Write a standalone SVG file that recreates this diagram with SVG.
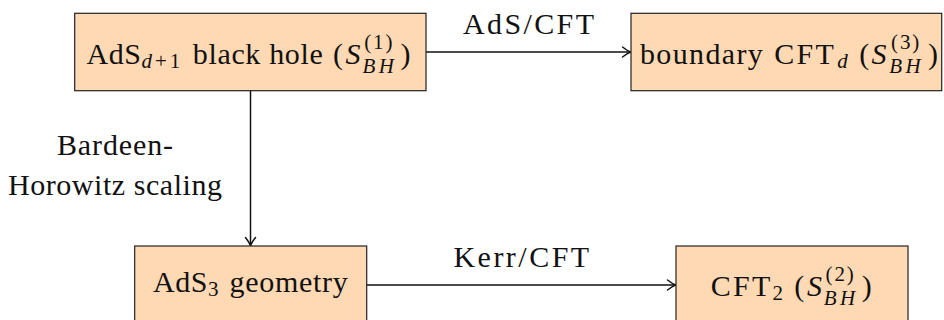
<svg xmlns="http://www.w3.org/2000/svg" width="944" height="320" viewBox="0 0 944 320">
<defs>
<style>
.box{fill:#FFD9B3;stroke:#222;stroke-width:1.2}
.t{font-family:"Liberation Serif","Times New Roman",serif;font-size:30px;fill:#111}
.s{font-size:21px}
.i{font-style:italic}
.edge{fill:none;stroke:#111;stroke-width:1.5}
</style>
<marker id="arr" markerUnits="userSpaceOnUse" markerWidth="14" markerHeight="14" viewBox="-10 -7 12 14" refX="0" refY="0" orient="auto">
<path d="M-8,-5 Q-3,-1.2 0,0 Q-3,1.2 -8,5" fill="none" stroke="#111" stroke-width="1.5" stroke-linecap="round"/>
</marker>
</defs>
<rect width="944" height="320" fill="#fff"/>

<g id="connectors">
<path class="edge" d="M426,52 H630.5" marker-end="url(#arr)"/>
<path class="edge" d="M250.5,90.7 V245.5" marker-end="url(#arr)"/>
<path class="edge" d="M366.7,285 H675.5" marker-end="url(#arr)"/>
<text class="t" x="463" y="33.5" textLength="131" lengthAdjust="spacing">AdS/CFT</text>
<text class="t" x="453.4" y="266.5" textLength="135.8" lengthAdjust="spacing">Kerr/CFT</text>
<text class="t" x="57" y="155" textLength="116" lengthAdjust="spacing">Bardeen-</text>
<text class="t" x="8" y="194.5" textLength="214" lengthAdjust="spacing">Horowitz scaling</text>
</g>

<g id="node-ads-bh">
<rect class="box" x="74.7" y="13.3" width="351.3" height="77.4"/>
<text class="t" y="63.5"><tspan x="86.5" letter-spacing="0.5">AdS</tspan><tspan class="s i" x="141.4" y="68">d</tspan><tspan class="s" x="155" y="68" letter-spacing="3">+1</tspan><tspan x="192.8" y="63.5" letter-spacing="0.65">black hole</tspan><tspan x="332.9">(</tspan><tspan class="i" x="345.5">S</tspan><tspan class="s" x="364.2" y="48.5" letter-spacing="1.9">(1)</tspan><tspan class="s i" x="362.5" y="72.5" letter-spacing="3.5">BH</tspan><tspan x="400.5" y="63.5">)</tspan></text>
</g>

<g id="node-boundary-cft">
<rect class="box" x="631" y="13.3" width="310.7" height="77.4"/>
<text class="t" y="63.5"><tspan x="640" letter-spacing="1.35">boundary</tspan><tspan x="774.3" letter-spacing="2.3">CFT</tspan><tspan class="s i" x="837.2" y="68">d</tspan><tspan x="859.2" y="63.5">(</tspan><tspan class="i" x="871.5">S</tspan><tspan class="s" x="891" y="48.5" letter-spacing="1.9">(3)</tspan><tspan class="s i" x="889.3" y="72.5" letter-spacing="3.5">BH</tspan><tspan x="928" y="63.5">)</tspan></text>
</g>

<g id="node-ads3">
<rect class="box" x="134.7" y="246" width="232" height="77.4"/>
<text class="t" y="291.8"><tspan x="153" letter-spacing="0.5">AdS</tspan><tspan class="s" x="207.9" y="296">3</tspan><tspan x="229.5" y="291.8" letter-spacing="0.7">geometry</tspan></text>
</g>

<g id="node-cft2">
<rect class="box" x="676" y="246" width="232" height="77.4"/>
<text class="t" y="295.5"><tspan x="710.7" letter-spacing="2.3">CFT</tspan><tspan class="s" x="772.6" y="300">2</tspan><tspan x="794.2" y="295.5">(</tspan><tspan class="i" x="807">S</tspan><tspan class="s" x="825.5" y="280.5" letter-spacing="1.9">(2)</tspan><tspan class="s i" x="823.8" y="304.5" letter-spacing="3.5">BH</tspan><tspan x="861.8" y="295.5">)</tspan></text>
</g>
</svg>
